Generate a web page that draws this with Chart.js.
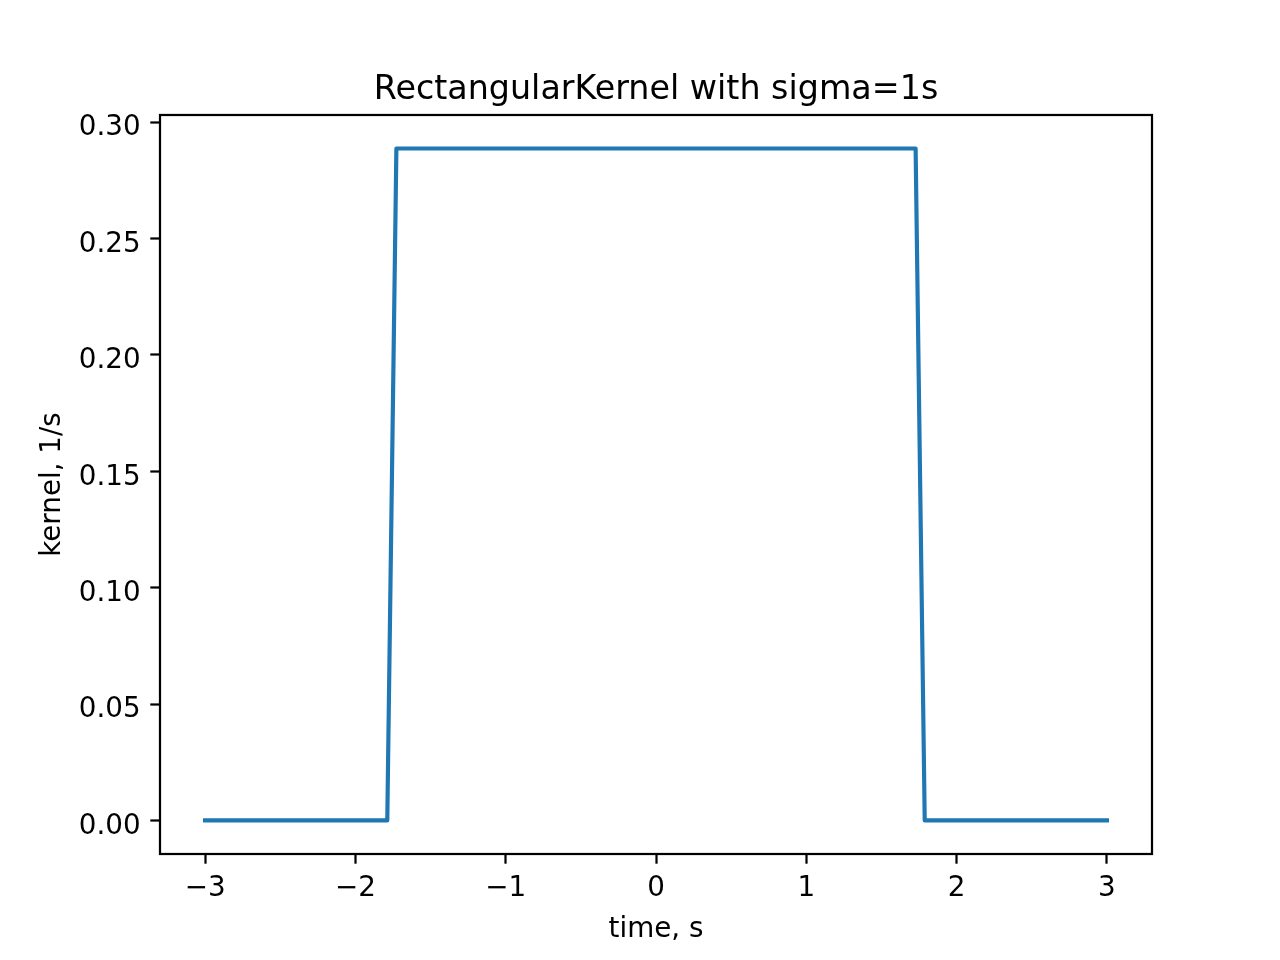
<!DOCTYPE html>
<html>
<head>
<meta charset="utf-8">
<script src="https://cdn.jsdelivr.net/npm/chart.js@4/dist/chart.umd.min.js"></script>
<style>
  html, body { margin: 0; padding: 0; background: #ffffff; }
  #c { display: block; }
</style>
</head>
<body>
<canvas id="c" width="1280" height="960"></canvas>
<script>
// Vertices of the plotted kernel line
const timeValues = [-3.0, -1.7879, -1.7273, 1.7273, 1.7879, 3.0];
const kernelValues = [0.0, 0.0, 0.2887, 0.2887, 0.0, 0.0];

const xTickValues = [-3, -2, -1, 0, 1, 2, 3];
const xTickLabels = ['\u22123', '\u22122', '\u22121', '0', '1', '2', '3'];
const yTickValues = [0.00, 0.05, 0.10, 0.15, 0.20, 0.25, 0.30];
const yTickLabels = ['0.00', '0.05', '0.10', '0.15', '0.20', '0.25', '0.30'];

const titleText = 'RectangularKernel with sigma=1s';
const xLabel = 'time, s';
const yLabel = 'kernel, 1/s';

const FONT = 'DejaVu Sans';
const TICK_SIZE = 27.78;
const TITLE_SIZE = 33.33;

const framePlugin = {
  id: 'frame',
  afterLayout(chart) {
    // centre the title over the plot area, as matplotlib does
    if (chart.titleBlock) {
      chart.titleBlock.left = chart.chartArea.left;
      chart.titleBlock.right = chart.chartArea.right;
      chart.titleBlock.width = chart.chartArea.right - chart.chartArea.left;
    }
  },
  afterDatasetsDraw(chart) {
    const a = chart.chartArea;
    const ctx = chart.ctx;
    ctx.save();
    ctx.strokeStyle = '#000000';
    ctx.lineWidth = 2.22;
    ctx.lineJoin = 'miter';
    ctx.strokeRect(a.left, a.top, a.right - a.left, a.bottom - a.top);
    ctx.restore();
  }
};

const points = timeValues.map((t, i) => ({ x: t, y: kernelValues[i] }));

new Chart(document.getElementById('c'), {
  type: 'line',
  data: {
    datasets: [{
      data: points,
      borderColor: '#1f77b4',
      borderWidth: 4.17,
      pointRadius: 0,
      tension: 0,
      fill: false,
      borderCapStyle: 'square',
      borderJoinStyle: 'round'
    }]
  },
  plugins: [framePlugin],
  options: {
    responsive: false,
    animation: false,
    devicePixelRatio: 1,
    layout: { padding: { left: 0, right: 128, top: 0, bottom: 0 } },
    plugins: {
      legend: { display: false },
      tooltip: { enabled: false },
      title: {
        display: true,
        text: titleText,
        color: '#000000',
        font: { family: FONT, size: TITLE_SIZE, weight: 'normal', lineHeight: 1.2 },
        padding: { top: 69.9, bottom: 5.1 }
      }
    },
    scales: {
      x: {
        type: 'linear',
        min: -3.3,
        max: 3.3,
        afterFit(scale) { scale.height = 106; },
        afterBuildTicks(scale) { scale.ticks = xTickValues.map(v => ({ value: v })); },
        border: { display: false },
        grid: {
          display: true,
          drawOnChartArea: false,
          drawTicks: true,
          tickLength: 9.7,
          tickWidth: 2.22,
          tickColor: '#000000'
        },
        ticks: {
          autoSkip: false,
          maxRotation: 0,
          padding: 8,
          color: '#000000',
          font: { family: FONT, size: TICK_SIZE },
          callback(value) {
            const i = xTickValues.indexOf(value);
            return i >= 0 ? xTickLabels[i] : '';
          }
        },
        title: {
          display: true,
          text: xLabel,
          color: '#000000',
          font: { family: FONT, size: TICK_SIZE, lineHeight: 1.2 },
          padding: { top: 0, bottom: 13.8 }
        }
      },
      y: {
        type: 'linear',
        min: -0.01443,
        max: 0.30311,
        afterFit(scale) { scale.width = 160; },
        afterBuildTicks(scale) { scale.ticks = yTickValues.map(v => ({ value: v })); },
        border: { display: false },
        grid: {
          display: true,
          drawOnChartArea: false,
          drawTicks: true,
          tickLength: 9.7,
          tickWidth: 2.22,
          tickColor: '#000000'
        },
        ticks: {
          autoSkip: false,
          padding: 9.7,
          labelOffset: 6,
          color: '#000000',
          font: { family: FONT, size: TICK_SIZE },
          callback(value) {
            const i = yTickValues.findIndex(v => Math.abs(v - value) < 1e-9);
            return i >= 0 ? yTickLabels[i] : '';
          }
        },
        title: {
          display: true,
          text: yLabel,
          color: '#000000',
          font: { family: FONT, size: TICK_SIZE, lineHeight: 1.2 },
          padding: { top: 35.9, bottom: 0 }
        }
      }
    }
  }
});
</script>
</body>
</html>
